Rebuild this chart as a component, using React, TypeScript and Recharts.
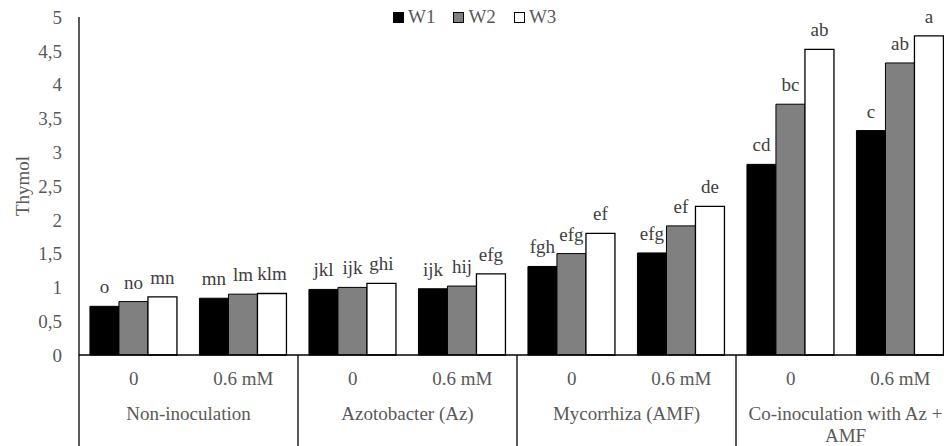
import { BarChart, Bar, XAxis, YAxis, LabelList } from "recharts";

const doses = ["0", "0.6 mM", "0", "0.6 mM", "0", "0.6 mM", "0", "0.6 mM"];
const groups = [
  ["Non-inoculation"],
  ["Azotobacter (Az)"],
  ["Mycorrhiza (AMF)"],
  ["Co-inoculation with Az +", "AMF"],
];
const w1 = [0.72, 0.84, 0.97, 0.98, 1.31, 1.51, 2.82, 3.32];
const w2 = [0.79, 0.9, 1.0, 1.02, 1.5, 1.91, 3.71, 4.32];
const w3 = [0.86, 0.91, 1.06, 1.2, 1.8, 2.2, 4.52, 4.72];
const w1Letters = ["o", "mn", "jkl", "ijk", "fgh", "efg", "cd", "c"];
const w2Letters = ["no", "lm", "ijk", "hij", "efg", "ef", "bc", "ab"];
const w3Letters = ["mn", "klm", "ghi", "efg", "ef", "de", "ab", "a"];
const yTicks = [0, 0.5, 1, 1.5, 2, 2.5, 3, 3.5, 4, 4.5, 5];

const data = doses.map((d, i) => ({
  dose: d,
  w1: w1[i],
  w2: w2[i],
  w3: w3[i],
  l1: w1Letters[i],
  l2: w2Letters[i],
  l3: w3Letters[i],
}));

const FONT = "Liberation Serif, DejaVu Serif, serif";
const CHART_W = 960;
const CHART_H = 446;
const LEFT = 79;
const RIGHT = 5;
const CAT_W = (CHART_W - LEFT - RIGHT) / doses.length;

function TwoLevelTick(props: any) {
  const { x, y, index, payload } = props;
  const g = Math.floor(index / 2);
  return (
    <g>
      <text
        x={x}
        y={y + 30}
        textAnchor="middle"
        fill="#595959"
        fontSize={19}
        style={{ fontFamily: FONT }}
      >
        {payload.value}
      </text>
      {index % 2 === 0 && (
        <>
          <line
            x1={x - CAT_W / 2}
            x2={x - CAT_W / 2}
            y1={y}
            y2={CHART_H}
            stroke="#000"
            strokeWidth={1.3}
          />
          {groups[g].map((t, k) => (
            <text
              key={k}
              x={x + CAT_W / 2}
              y={y + 65 + k * 22}
              textAnchor="middle"
              fill="#595959"
              fontSize={19}
              style={{ fontFamily: FONT }}
            >
              {t}
            </text>
          ))}
        </>
      )}
    </g>
  );
}

const labelStyle = { fontSize: 19, fontFamily: FONT, fill: "#404040" };

function Legend() {
  const items = [
    { name: "W1", fill: "#000" },
    { name: "W2", fill: "#808080" },
    { name: "W3", fill: "#fff" },
  ];
  return (
    <div
      style={{
        position: "absolute",
        left: 393,
        top: 6,
        display: "flex",
        gap: 18,
        fontFamily: FONT,
        fontSize: 19,
        color: "#595959",
        lineHeight: "22px",
      }}
    >
      {items.map((it) => (
        <div key={it.name} style={{ display: "flex", alignItems: "center", gap: 4 }}>
          <span
            style={{
              display: "inline-block",
              width: 9,
              height: 9,
              background: it.fill,
              border: "1px solid #000",
            }}
          />
          <span>{it.name}</span>
        </div>
      ))}
    </div>
  );
}

export default function App() {
  return (
    <div
      style={{
        position: "absolute",
        left: 0,
        top: 0,
        width: 944,
        height: 446,
        overflow: "hidden",
        background: "#fff",
        fontFamily: FONT,
      }}
    >
      <BarChart
        width={CHART_W}
        height={CHART_H}
        data={data}
        margin={{ top: 17, right: RIGHT, bottom: 0, left: 0 }}
        barCategoryGap="10%"
        barGap={0}
        style={{ fontFamily: FONT }}
      >
        <XAxis
          dataKey="dose"
          interval={0}
          height={91}
          tickLine={false}
          tickSize={0}
          tickMargin={0}
          axisLine={{ stroke: "#000", strokeWidth: 1.3 }}
          tick={<TwoLevelTick />}
        />
        <YAxis
          width={LEFT}
          domain={[0, 5]}
          ticks={yTicks}
          interval={0}
          tickLine={false}
          tickSize={0}
          tickMargin={17}
          axisLine={{ stroke: "#000", strokeWidth: 1.3 }}
          tick={{ fill: "#595959", fontSize: 19, style: { fontFamily: FONT } }}
          tickFormatter={(v: number) => String(v).replace(".", ",")}
          label={{
            value: "Thymol",
            angle: -90,
            position: "insideLeft",
            offset: 22,
            style: { textAnchor: "middle", fill: "#595959", fontSize: 19, fontFamily: FONT },
          }}
        />
        <Bar dataKey="w1" fill="#000" stroke="#000" strokeWidth={1} isAnimationActive={false}>
          <LabelList dataKey="l1" position="top" offset={13} style={labelStyle} />
        </Bar>
        <Bar dataKey="w2" fill="#808080" stroke="#000" strokeWidth={1} isAnimationActive={false}>
          <LabelList dataKey="l2" position="top" offset={13} style={labelStyle} />
        </Bar>
        <Bar dataKey="w3" fill="#fff" stroke="#000" strokeWidth={1.3} isAnimationActive={false}>
          <LabelList dataKey="l3" position="top" offset={13} style={labelStyle} />
        </Bar>
      </BarChart>
      <Legend />
    </div>
  );
}
